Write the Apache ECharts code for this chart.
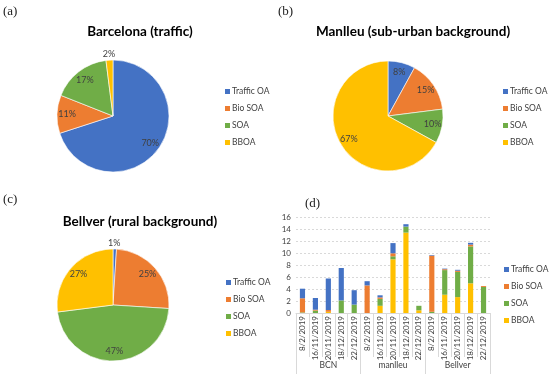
<!DOCTYPE html>
<html>
<head>
<meta charset="utf-8">
<script src="https://cdn.jsdelivr.net/npm/echarts@6/dist/echarts.min.js"></script>
<style>html,body{margin:0;padding:0;background:#fff}#c{width:550px;height:374px}</style>
</head>
<body>
<div id="c"></div>
<script>
// ---- data ----
var components = ['Traffic OA', 'Bio SOA', 'SOA', 'BBOA'];
var colors = ['#4472C4', '#ED7D31', '#70AD47', '#FFC000'];

var pieBarcelona = [70, 11, 17, 2];
var pieManlleu = [8, 15, 10, 67];
var pieBellver = [1, 25, 47, 27];

var dates = ['8/2/2019', '16/11/2019', '20/11/2019', '18/12/2019', '22/12/2019',
             '8/2/2019', '16/11/2019', '20/11/2019', '18/12/2019', '22/12/2019',
             '8/2/2019', '16/11/2019', '20/11/2019', '18/12/2019', '22/12/2019'];
var sites = ['BCN', 'manlleu', 'Bellver'];

var barBBOA    = [0, 0, 0.2, 0, 0,     0, 1.2, 8.95, 13.4, 0.45,   0, 3.05, 2.65, 4.95, 0];
var barSOA     = [0.1, 0.4, 0, 2.1, 1.4,  0, 1.15, 0.5, 1.0, 0.75,  0.2, 4.1, 4.2, 6.15, 4.35];
var barBioSOA  = [2.35, 0.15, 0.3, 0, 0,  4.6, 0.25, 0.5, 0, 0,     9.35, 0.15, 0.2, 0.3, 0.15];
var barTraffic = [1.6, 1.95, 5.25, 5.4, 2.4,  0.7, 0.35, 1.7, 0.4, 0,  0.1, 0.1, 0.15, 0.3, 0];

var yTicks = {min: 0, max: 16, interval: 2};

// ---- helpers ----
var chart = echarts.init(document.getElementById('c'));
var labelColor = '#404040';
var fontMain = 'Lato, "Open Sans", sans-serif';

function pieData(vals, outside) {
  return components.map(function (n, i) {
    var d = {name: n, value: vals[i]};
    if (outside[i] !== undefined) {
      d.label = {position: 'outside'};
    }
    return d;
  });
}
function pieSeries(vals, center, r, outside) {
  return [
    {
      type: 'pie', center: center, radius: r, startAngle: 90, clockwise: true,
      data: pieData(vals, {}), label: {show: false}, labelLine: {show: false},
      itemStyle: {borderColor: '#fff', borderWidth: 0.6}, silent: true, animation: false
    },
    {
      type: 'pie', center: center, radius: [Math.round(r * 0.54), r], startAngle: 90, clockwise: true,
      data: pieData(vals, outside), silent: true, animation: false,
      itemStyle: {color: 'rgba(0,0,0,0)'},
      label: {show: true, position: 'inside', formatter: '{c}%', fontSize: 9, color: labelColor, fontFamily: fontMain},
      labelLine: {show: false, length: 6, length2: 0},
      labelLayout: function (p) {
        var dx = outside[p.dataIndex];
        return dx !== undefined ? {dx: dx} : {};
      }
    }
  ];
}
function legendAt(left, top) {
  return {
    orient: 'vertical', left: left, top: top, data: components, padding: 0,
    itemWidth: 5, itemHeight: 5, itemGap: 8, icon: 'rect',
    textStyle: {fontSize: 8.5, color: '#404040', fontFamily: fontMain, padding: [0, 0, 0, -3]},
    selectedMode: false
  };
}
function panelTitle(text, left, top) {
  return {text: text, left: left, top: top, padding: 0,
    textStyle: {fontFamily: '"Liberation Serif", "DejaVu Serif", serif', fontWeight: 'normal', fontSize: 13, color: '#222'}};
}
function chartTitle(text, cx, top) {
  return {text: text, left: cx, top: top, textAlign: 'center', padding: 0,
    textStyle: {fontFamily: fontMain, fontWeight: 'bold', fontSize: 13.5, color: '#000'}};
}

var series = [];
series = series.concat(pieSeries(pieBarcelona, [113, 116], 56, {3: 11}));
series = series.concat(pieSeries(pieManlleu, [388, 116], 55, {}));
series = series.concat(pieSeries(pieBellver, [113, 305], 56, {0: -12}));

var barVals = [barTraffic, barBioSOA, barSOA, barBBOA];
// stack bottom to top: BBOA, SOA, Bio SOA, Traffic OA
[3, 2, 1, 0].forEach(function (i) {
  series.push({
    type: 'bar', name: components[i], stack: 'oa', xAxisIndex: 0, yAxisIndex: 0,
    data: barVals[i], barWidth: '40%', itemStyle: {color: colors[i]},
    silent: true, animation: false
  });
});

chart.setOption({
  color: colors,
  animation: false,
  title: [
    panelTitle('(a)', 3, 5),
    panelTitle('(b)', 278, 5),
    panelTitle('(c)', 3, 193),
    panelTitle('(d)', 305, 197),
    chartTitle('Barcelona (traffic)', 140, 25),
    chartTitle('Manlleu (sub-urban background)', 413, 25),
    chartTitle('Bellver (rural background)', 140, 215)
  ],
  legend: [
    legendAt(225, 87),
    legendAt(503, 87),
    legendAt(226, 278),
    legendAt(504, 265)
  ],
  grid: {left: 296, right: 60, top: 217, bottom: 61, containLabel: false},
  xAxis: [
    {
      type: 'category', data: dates, gridIndex: 0, position: 'bottom',
      axisLine: {lineStyle: {color: '#d9d9d9'}},
      axisTick: {show: true, length: 44, interval: 0, lineStyle: {color: '#d9d9d9'}},
      axisLabel: {rotate: 90, interval: 0, fontSize: 8, color: '#404040', margin: 3, fontFamily: fontMain}
    },
    {
      type: 'category', data: sites, gridIndex: 0, position: 'bottom',
      axisLine: {show: false},
      axisTick: {show: true, length: 61, interval: 0, lineStyle: {color: '#d9d9d9'}},
      axisLabel: {fontSize: 8.5, color: '#404040', margin: 48, fontFamily: fontMain}
    }
  ],
  yAxis: [{
    type: 'value', gridIndex: 0, min: yTicks.min, max: yTicks.max, interval: yTicks.interval,
    axisLine: {show: false}, axisTick: {show: false},
    axisLabel: {fontSize: 8, color: '#404040', margin: 5, fontFamily: fontMain},
    splitLine: {lineStyle: {color: '#d9d9d9', type: [2, 2]}}
  }],
  series: series
});
</script>
</body>
</html>
